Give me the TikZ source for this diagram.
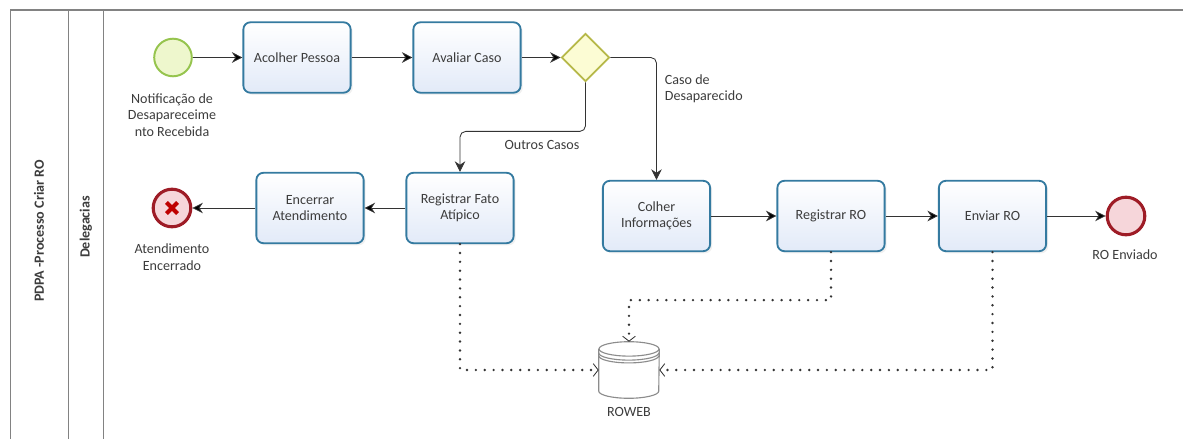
\documentclass[tikz,border=0pt]{standalone}
\usepackage{fontspec}
\setmainfont{Carlito}
\usetikzlibrary{arrows.meta,shapes.geometric,shadows}
\definecolor{taskline}{RGB}{52,122,160}
\definecolor{taskfill}{RGB}{226,234,248}
\definecolor{startline}{RGB}{150,196,78}
\definecolor{startfill}{RGB}{238,247,205}
\definecolor{endline}{RGB}{158,28,38}
\definecolor{endfill}{RGB}{246,214,218}
\definecolor{gwline}{RGB}{182,184,72}
\definecolor{gwfill}{RGB}{252,252,212}
\definecolor{txt}{RGB}{60,60,60}
\definecolor{frameline}{RGB}{130,130,130}
\begin{document}
\begin{tikzpicture}
	[x=0.025cm,y=-0.025cm,
	every node/.style={font=\fontsize{10}{11.7}\selectfont,text=txt},
	task/.style={draw=taskline,line width=1.3pt,rounded corners=5pt,top color=white,bottom color=taskfill,
		minimum width=2.68cm,minimum height=1.76cm,align=center,
		drop shadow={opacity=0.12,shadow xshift=1.5pt,shadow yshift=-1.5pt}},
	event/.style={circle,minimum size=0.94cm,inner sep=0pt},
	lbl/.style={align=center},
	flow/.style={draw=black!80,line width=0.6pt,-{Stealth[length=7.5pt,width=7.5pt]}},
	assoc/.style={draw=black!80,line width=1.9pt,line cap=round,dash pattern=on 0pt off 6.3pt,
		-{Straight Barb[length=3.5pt,width=9pt,line width=0.6pt]}}]
	\useasboundingbox (0,0) rectangle (1183,439);
	% pool and lane
	\draw[frameline,line width=0.7pt] (10,439) -- (10,10);
	\draw[frameline,line width=1.3pt] (10,10) -- (1183,10);
	\draw[frameline,line width=0.7pt] (68,10) -- (68,439);
	\draw[frameline,line width=0.7pt] (103,10) -- (103,439);
	\node[rotate=90,font=\fontsize{10}{12}\selectfont\bfseries] (P) at (39,231) {PDPA -Processo Criar RO};
	\node[rotate=90,font=\fontsize{10}{12}\selectfont\bfseries] (L) at (86,227) {Delegacias};
	% events, tasks and gateway
	\node[event,draw=startline,line width=1.4pt,fill=startfill] (S) at (173,57.5) {};
	\node[lbl] (SL) at (172,115) {Notificação de\\Desapareceime\\nto Recebida};
	\node[task] (AP) at (297,57.5) {Acolher Pessoa};
	\node[task] (AC) at (467,57.5) {Avaliar Caso};
	\node[diamond,aspect=1,draw=gwline,line width=1.3pt,fill=gwfill,minimum size=1.2cm,inner sep=0pt] (G) at (585.5,57.5) {};
	\node[task] (RF) at (460,208) {Registrar Fato\\Atípico};
	\node[task] (EA) at (310,208) {Encerrar\\Atendimento};
	\node[event,draw=endline,line width=2.2pt,fill=endfill] (EE) at (172,208) {};
	\draw[red!75!black,line width=2.8pt] ([shift={(-0.14cm,-0.14cm)}]EE.center) -- ([shift={(0.14cm,0.14cm)}]EE.center)
		([shift={(-0.14cm,0.14cm)}]EE.center) -- ([shift={(0.14cm,-0.14cm)}]EE.center);
	\node[lbl] (EEL) at (172,257) {Atendimento\\Encerrado};
	\node[task] (CI) at (656.5,216) {Colher\\Informações};
	\node[task] (RR) at (831,216) {Registrar RO};
	\node[task] (ER) at (992.5,216) {Enviar RO};
	\node[event,draw=endline,line width=2.2pt,fill=endfill] (E) at (1126,216) {};
	\node[lbl] (EL) at (1125,255) {RO Enviado};
	% data store
	\node[minimum width=1.5cm,minimum height=1.4cm,inner sep=0pt] (DB) at (629,370) {};
	\draw[black!45,line width=0.8pt,fill=white] ([yshift=-0.18cm]DB.north west) -- ([yshift=0.18cm]DB.south west)
		arc[start angle=180,end angle=360,x radius=0.75cm,y radius=0.18cm] -- ([yshift=-0.18cm]DB.north east);
	\draw[black!45,line width=0.8pt,fill=white] ([yshift=-0.18cm]DB.north) ellipse[x radius=0.75cm,y radius=0.18cm];
	\draw[black!45,line width=0.8pt] ([yshift=-0.28cm]DB.north west) arc[start angle=180,end angle=360,x radius=0.75cm,y radius=0.18cm];
	\draw[black!45,line width=0.8pt] ([yshift=-0.35cm]DB.north west) arc[start angle=180,end angle=360,x radius=0.75cm,y radius=0.18cm];
	\node[lbl] (DBL) at (629,412) {ROWEB};
	% sequence flows
	\path[flow]
		(S) edge (AP)
		(AP) edge (AC)
		(AC) edge (G)
		(RF) edge (EA)
		(EA) edge (EE)
		(CI) edge (RR)
		(RR) edge (ER)
		(ER) edge (E);
	\draw[flow,rounded corners=4pt] (G.east) -| (CI.north);
	\draw[flow,rounded corners=4pt] (G.south) -- ++(0,49) -| (RF.north);
	\node[anchor=west,lbl,align=left] (T1) at (660,89) {Caso de\\Desaparecido};
	\node[lbl] (T2) at (542,145) {Outros Casos};
	% associations
	\draw[assoc] (RF.south) |- (DB.west);
	\draw[assoc] (RR.south) -- ++(0,48) -| (DB.north);
	\draw[assoc] (ER.south) |- (DB.east);
\end{tikzpicture}
\end{document}
